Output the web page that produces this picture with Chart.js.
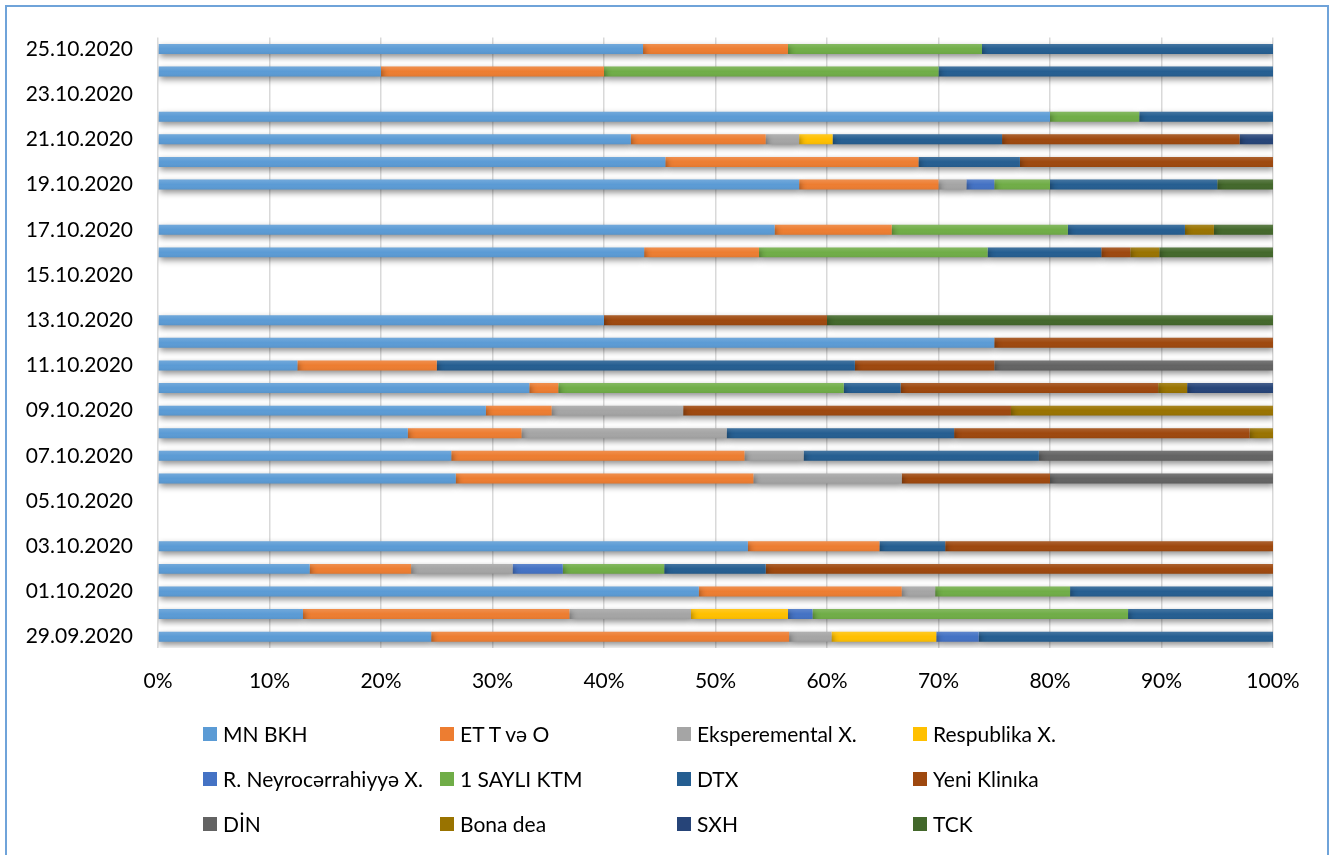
<!DOCTYPE html>
<html>
<head>
<meta charset="utf-8">
<script src="https://cdn.jsdelivr.net/npm/chart.js@4/dist/chart.umd.min.js"></script>
<style>
  html, body { margin: 0; padding: 0; background: #fff; }
  #wrap { position: relative; width: 1332px; height: 855px; overflow: hidden; }
  #frame { position: absolute; left: 5px; top: 5px; width: 1320px; height: 900px;
           border: 2px solid #6fa3d9; pointer-events: none; }
  #legend { position: absolute; left: 0; top: 0; width: 1332px; height: 855px; pointer-events: none;
            font-family: Lato, "Open Sans", sans-serif; font-size: 21px; color: #000; }
  .item { position: absolute; height: 24px; line-height: 24px; white-space: nowrap; }
  .item i { position: absolute; left: 0; top: 5px; width: 14px; height: 14px; }
  .item span { position: absolute; left: 20px; top: 0; }
</style>
</head>
<body>
<div id="wrap">
  <canvas id="c" width="1332" height="855"></canvas>
  <div id="legend"></div>
  <div id="frame"></div>
</div>
<script>
// Dates on the category axis (bottom to top)
const dates = ['29.09.2020','30.09.2020','01.10.2020','02.10.2020','03.10.2020','04.10.2020','05.10.2020',
  '06.10.2020','07.10.2020','08.10.2020','09.10.2020','10.10.2020','11.10.2020','12.10.2020','13.10.2020',
  '14.10.2020','15.10.2020','16.10.2020','17.10.2020','18.10.2020','19.10.2020','20.10.2020','21.10.2020',
  '22.10.2020','23.10.2020','24.10.2020','25.10.2020'];

const _ = null;
// Share of each hospital per day, in percent
const mnBkh        = [24.5,13.0,48.5,13.6,52.9,_,_,26.7,26.3,22.4,29.4,33.3,12.5,75.0,40.0,_,_,43.6,55.3,_,57.5,45.5,42.4,80.0,_,20.0,43.5];
const etTvO        = [32.1,23.9,18.2, 9.1,11.8,_,_,26.7,26.3,10.2, 5.9, 2.6,12.5,_,_,_,_,10.3,10.5,_,12.5,22.7,12.1,_,_,20.0,13.0];
const eksperemental= [ 3.8,10.9, 3.0, 9.1,_,_,_,13.3, 5.3,18.4,11.8,_,_,_,_,_,_,_,_,_, 2.5,_, 3.0,_,_,_,_];
const respublika   = [ 9.4, 8.7,_,_,_,_,_,_,_,_,_,_,_,_,_,_,_,_,_,_,_,_, 3.0,_,_,_,_];
const neyrocerrahi = [ 3.8, 2.2,_, 4.5,_,_,_,_,_,_,_,_,_,_,_,_,_,_,_,_, 2.5,_,_,_,_,_,_];
const saylıKtm     = [_,28.3,12.1, 9.1,_,_,_,_,_,_,_,25.6,_,_,_,_,_,20.5,15.8,_, 5.0,_,_, 8.0,_,30.0,17.4];
const dtx          = [26.4,13.0,18.2, 9.1, 5.9,_,_,_,21.1,20.4,_, 5.1,37.5,_,_,_,_,10.2,10.5,_,15.0, 9.1,15.2,12.0,_,30.0,26.1];
const yeniKlinika  = [_,_,_,45.5,29.4,_,_,13.3,_,26.5,29.4,23.1,12.5,25.0,20.0,_,_, 2.6,_,_,_,22.7,21.3,_,_,_,_];
const din          = [_,_,_,_,_,_,_,20.0,21.0,_,_,_,25.0,_,_,_,_,_,_,_,_,_,_,_,_,_,_];
const bonaDea      = [_,_,_,_,_,_,_,_,_, 2.1,23.5, 2.6,_,_,_,_,_, 2.6, 2.6,_,_,_,_,_,_,_,_];
const sxh          = [_,_,_,_,_,_,_,_,_,_,_, 7.7,_,_,_,_,_,_,_,_,_,_, 3.0,_,_,_,_];
const tck          = [_,_,_,_,_,_,_,_,_,_,_,_,_,_,40.0,_,_,10.2, 5.3,_, 5.0,_,_,_,_,_,_];

const seriesNames = ['MN BKH','ET T və O','Eksperemental X.','Respublika X.','R. Neyrocərrahiyyə X.',
  '1 SAYLI KTM','DTX','Yeni Klinıka','DİN','Bona dea','SXH','TCK'];
const seriesData = [mnBkh, etTvO, eksperemental, respublika, neyrocerrahi, saylıKtm, dtx, yeniKlinika, din, bonaDea, sxh, tck];
const seriesColors = ['#5b9bd5','#ed7d31','#a5a5a5','#ffc000','#4472c4','#70ad47','#255e91','#9e480e','#636363','#997300','#264478','#43682b'];

const xTicks = [0,10,20,30,40,50,60,70,80,90,100];

// Soft drop shadow under the bars plus a light top sheen on each segment
const barShade = {
  id: 'barShade',
  beforeDatasetsDraw(chart) {
    const ctx = chart.ctx;
    ctx.save();
    ctx.shadowColor = 'rgba(0,0,0,0.45)';
    ctx.shadowBlur = 6;
    ctx.shadowOffsetX = 1;
    ctx.shadowOffsetY = 3;
  },
  afterDatasetsDraw(chart) {
    const ctx = chart.ctx;
    ctx.restore();
    ctx.save();
    chart.data.datasets.forEach((ds, i) => {
      chart.getDatasetMeta(i).data.forEach(el => {
        if (el.skip || el.$context && el.$context.raw == null) return;
        const p = el.getProps(['x','y','base','height'], true);
        const left = Math.min(p.x, p.base), w = Math.abs(p.x - p.base);
        if (!w) return;
        const top = p.y - p.height / 2;
        const g = ctx.createLinearGradient(0, top, 0, top + p.height);
        g.addColorStop(0, 'rgba(255,255,255,0.14)');
        g.addColorStop(0.5, 'rgba(255,255,255,0)');
        g.addColorStop(1, 'rgba(0,0,0,0.05)');
        ctx.fillStyle = g;
        ctx.fillRect(left, top, w, p.height);
      });
    });
    ctx.restore();
  }
};

const fontFamily = 'Lato, "Open Sans", sans-serif';

new Chart(document.getElementById('c'), {
  type: 'bar',
  data: {
    labels: dates,
    datasets: seriesNames.map((name, i) => ({
      label: name,
      data: seriesData[i],
      backgroundColor: seriesColors[i],
      borderWidth: 0,
      barPercentage: 0.44,
      categoryPercentage: 1.0
    }))
  },
  options: {
    indexAxis: 'y',
    responsive: false,
    animation: false,
    layout: { padding: { top: 31, right: 59, bottom: 147, left: 0 } },
    plugins: { legend: { display: false }, tooltip: { enabled: false } },
    scales: {
      x: {
        stacked: true,
        min: 0, max: 100,
        afterBuildTicks(scale) { scale.ticks = xTicks.map(v => ({ value: v })); },
        afterFit(scale) { scale.height = 60; },
        border: { display: false },
        grid: { color: '#d9d9d9', lineWidth: 1.5, drawTicks: false },
        ticks: {
          padding: 21,
          color: '#000',
          font: { family: fontFamily, size: 21 },
          callback: v => v + '%'
        }
      },
      y: {
        stacked: true,
        reverse: true,
        afterFit(scale) { scale.width = 158; },
        border: { display: false },
        grid: { display: false, drawTicks: false },
        ticks: {
          autoSkip: false,
          padding: 25,
          color: '#000',
          font: { family: fontFamily, size: 21 },
          callback(value, index) { return index % 2 === 0 ? this.getLabelForValue(value) : ''; }
        }
      }
    }
  },
  plugins: [barShade]
});

// Legend grid, four columns by three rows
const legend = document.getElementById('legend');
const colLeft = [203, 440, 677, 913];
const rowMid = [734, 779, 824];
seriesNames.forEach((name, i) => {
  const d = document.createElement('div');
  d.className = 'item';
  d.style.left = colLeft[i % 4] + 'px';
  d.style.top = (rowMid[Math.floor(i / 4)] - 12) + 'px';
  const sw = document.createElement('i');
  sw.style.background = 'linear-gradient(' + seriesColors[i] + 'cc,' + seriesColors[i] + ')';
  sw.style.backgroundColor = seriesColors[i];
  const t = document.createElement('span');
  t.textContent = name;
  d.appendChild(sw); d.appendChild(t);
  legend.appendChild(d);
});
</script>
</body>
</html>
